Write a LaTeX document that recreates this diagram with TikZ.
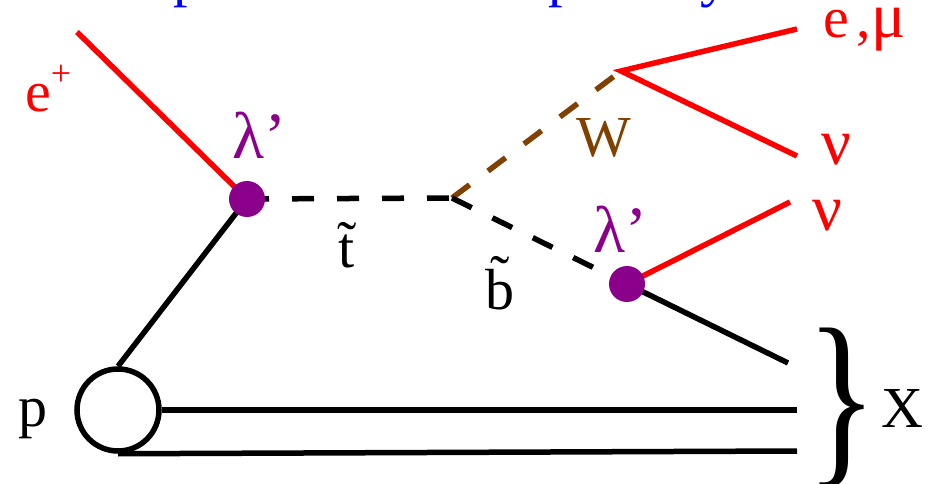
\documentclass[tikz,border=0pt]{standalone}
\usepackage{fontspec}
\setmainfont{Liberation Serif}
\definecolor{lred}{RGB}{255,0,0}
\definecolor{lpurple}{RGB}{139,0,139}
\definecolor{lbrown}{RGB}{128,64,0}
\definecolor{lblue}{RGB}{0,0,255}
\begin{document}
\begin{tikzpicture}[x=1pt,y=-1pt,
  lbl/.style={inner sep=0pt, font=\fontsize{58}{58}\selectfont},
  greek/.style={inner sep=0pt, font=\fontsize{66}{66}\selectfont},
  fermion/.style={line width=5.5pt},
  lep/.style={fermion, draw=lred},
  quark/.style={fermion, draw=black},
  sferm/.style={line width=5.5pt, dash pattern=on 22pt off 23pt},
  coupling/.style={circle, fill=lpurple, minimum size=36pt, inner sep=0pt},
  proton/.style={circle, draw=black, line width=5.5pt, minimum size=82pt, inner sep=0pt}]
\useasboundingbox (0,0) rectangle (938,484);
\clip (0,0) rectangle (938,484);

% points
\coordinate (ein) at (77,32);
\coordinate (d1) at (247,199);
\coordinate (v1) at (452,198);
\coordinate (wv) at (621,71);
\coordinate (lep1) at (797,29);
\coordinate (nu1) at (797,156);
\coordinate (d2) at (627,284);
\coordinate (nu2) at (790,202);
\coordinate (q2) at (788,363);
\coordinate (r1) at (797,410);
\coordinate (r2) at (797,451);

\node[proton] (pc) at (118,410) {};

% lines
\draw[lep] (ein) -- (d1);
\draw[quark] (pc.north) -- (d1);
\draw[sferm] (d1) -- (v1);
\draw[sferm, draw=lbrown] (v1) -- (wv);
\draw[sferm] (v1) -- (d2);
\draw[lep] (lep1) -- (wv) -- (nu1);
\draw[lep] (d2) -- (nu2);
\draw[quark] (d2) -- (q2);
\draw[quark] (pc.east) -- (r1);
\draw[quark] (pc.south) -- (r2);

% couplings
\node[coupling] (c1) at (d1) {};
\node[coupling] (c2) at (d2) {};

% labels
\node[lbl, text=lred, anchor=base west] (le) at (25,112) {e};
\node[inner sep=0pt, font=\fontsize{36}{36}\selectfont, text=lred] (lplus) at (61,75) {+};
\node[greek, text=lpurple] (lam1) at (259,135) {λ’};
\node[greek, text=lpurple] (lam2) at (620,229) {λ’};
\node[lbl] (lt) at (347,245) {\~{t}};
\node[lbl] (lb) at (500,283) {\~{b}};
\node[lbl, text=lbrown] (lw) at (604,138) {W};
\node[lbl, text=lred, anchor=base west] (lemu) at (823,38) {e\hspace{8pt},{\fontsize{64}{64}\selectfont μ}};
\node[greek, text=lred] (lnu1) at (836,150) {ν};
\node[greek, text=lred] (lnu2) at (827,216) {ν};
\node[lbl, anchor=base west] (lp) at (18,426) {p};
\node[lbl, anchor=base] (lx) at (902,427) {X};
\node[inner sep=0pt, font=\fontsize{148}{148}\selectfont] (brace) at (842,408) {\scalebox{1}[1.3]{\}}};

% cut-off title (descenders only)
\node[lbl, text=lblue, anchor=base west] (tp1) at (173,-4) {p};
\node[lbl, text=lblue, anchor=base west] (tp2) at (548,-4) {p};
\node[lbl, text=lblue, anchor=base west] (ty) at (700,-4) {y};
\end{tikzpicture}
\end{document}
